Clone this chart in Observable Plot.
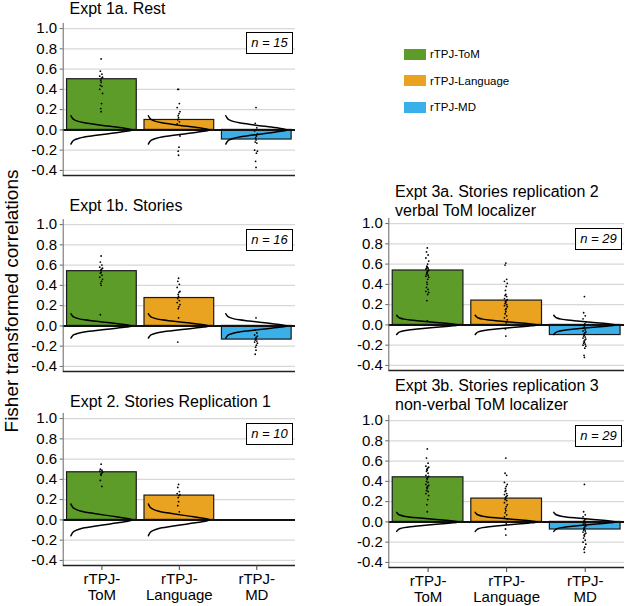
<!DOCTYPE html>
<html><head><meta charset="utf-8">
<script src="https://cdn.jsdelivr.net/npm/d3@7"></script>
<script src="https://cdn.jsdelivr.net/npm/@observablehq/plot@0.6"></script>
<style>
body{margin:0;background:#fff;}
#root{position:relative;width:625px;height:606px;overflow:hidden;font-family:"Liberation Sans",Arial,sans-serif;color:#000;}
.ttl{position:absolute;font-size:16px;line-height:19px;white-space:nowrap;}
.panel{position:absolute;}
.panel svg{overflow:visible;}
.nbox{position:absolute;border:1.3px solid #000;background:#fff;font-style:italic;font-size:13px;text-align:center;box-sizing:border-box;line-height:19px;}
.ylab{position:absolute;font-size:19px;white-space:nowrap;transform:translate(-50%,-50%) rotate(-90deg);}
.sw{position:absolute;width:22px;height:11px;}
.lg{position:absolute;font-size:11.5px;line-height:12px;white-space:nowrap;}
</style>
</head><body>
<div id="root"></div>
<script>
// ---------- data ----------
const categories = ["rTPJ-ToM", "rTPJ-Language", "rTPJ-MD"];
const tickLabels = ["rTPJ-\nToM", "rTPJ-\nLanguage", "rTPJ-\nMD"];
const colors = ["#5e9c2a", "#e9a321", "#3bb0e8"];
const yTicks = [-0.4, -0.2, 0.0, 0.2, 0.4, 0.6, 0.8, 1.0];
const yLabel = "Fisher transformed correlations";

const titles = [
  ["Expt 1a. Rest"],
  ["Expt 1b. Stories"],
  ["Expt 2. Stories Replication 1"],
  ["Expt 3a. Stories replication 2", "verbal ToM localizer"],
  ["Expt 3b. Stories replication 3", "non-verbal ToM localizer"]
];
const nValues = [15, 16, 10, 29, 29];

// bar means per panel (ToM, Language, MD)
const means1a = [0.50, 0.098, -0.095];
const means1b = [0.54, 0.275, -0.135];
const means2  = [0.47, 0.24, null];
const means3a = [0.537, 0.24, -0.10];
const means3b = [0.44, 0.23, -0.075];

// individual subject values
const tom1a  = [0.70,0.58,0.55,0.53,0.52,0.51,0.49,0.47,0.44,0.43,0.40,0.36,0.26,0.21,0.18];
const lang1a = [0.40,0.40,0.26,0.22,0.18,0.16,0.14,0.12,0.10,0.08,0.06,-0.06,-0.17,-0.21,-0.25];
const md1a   = [0.22,0.065,0.02,-0.01,-0.04,-0.06,-0.08,-0.10,-0.12,-0.13,-0.20,-0.21,-0.23,-0.31,-0.37];

const tom1b  = [0.69,0.63,0.60,0.58,0.57,0.56,0.55,0.53,0.52,0.50,0.48,0.46,0.44,0.42,0.40,0.11];
const lang1b = [0.47,0.44,0.41,0.38,0.34,0.33,0.31,0.29,0.27,0.25,0.23,0.21,0.19,0.17,0.08,-0.16];
const md1b   = [0.08,-0.04,-0.07,-0.09,-0.10,-0.11,-0.12,-0.13,-0.14,-0.15,-0.16,-0.17,-0.19,-0.21,-0.24,-0.28];

const tom2  = [0.55,0.50,0.49,0.48,0.47,0.46,0.45,0.44,0.39,0.33];
const lang2 = [0.35,0.32,0.28,0.26,0.25,0.24,0.22,0.18,0.14,0.08];

const tom3a  = [0.76,0.72,0.69,0.66,0.63,0.60,0.58,0.57,0.56,0.56,0.55,0.54,0.53,0.52,0.51,0.50,0.49,0.48,0.47,0.45,0.42,0.40,0.37,0.35,0.33,0.32,0.30,0.24,0.04];
const lang3a = [0.61,0.59,0.45,0.43,0.41,0.38,0.34,0.30,0.29,0.28,0.26,0.25,0.24,0.23,0.22,0.21,0.20,0.19,0.18,0.16,0.15,0.13,0.11,0.09,0.07,0.05,0.02,-0.04,-0.11];
const md3a   = [0.28,0.12,0.09,0.06,0.03,0.01,0.00,-0.02,-0.03,-0.05,-0.06,-0.07,-0.08,-0.09,-0.10,-0.11,-0.12,-0.13,-0.14,-0.15,-0.16,-0.17,-0.18,-0.19,-0.20,-0.21,-0.23,-0.30,-0.32];

const tom3b  = [0.72,0.63,0.58,0.55,0.54,0.53,0.52,0.51,0.50,0.48,0.46,0.45,0.44,0.43,0.42,0.40,0.39,0.37,0.36,0.35,0.34,0.33,0.31,0.30,0.28,0.26,0.22,0.17,0.10];
const lang3b = [0.63,0.48,0.46,0.39,0.37,0.35,0.33,0.31,0.30,0.28,0.27,0.26,0.25,0.24,0.23,0.22,0.21,0.19,0.17,0.15,0.13,0.11,0.09,0.07,0.05,0.03,-0.02,-0.07,-0.13];
const md3b   = [0.37,0.10,0.07,0.05,0.03,0.02,0.01,0.00,-0.01,-0.02,-0.03,-0.04,-0.05,-0.06,-0.07,-0.08,-0.09,-0.10,-0.11,-0.12,-0.13,-0.14,-0.16,-0.18,-0.20,-0.22,-0.25,-0.27,-0.30];

// sideways null-distribution curve shape:
// vertical position (fraction of tail extent) and horizontal reach (fraction of width)
const curveU = [1.0, 0.85, 0.72, 0.60, 0.50, 0.40, 0.30, 0.20, 0.10, 0.0];
const curveW = [0.0, 0.02, 0.05, 0.12, 0.22, 0.38, 0.55, 0.74, 0.90, 1.0];
// tail extent (in correlation units) of the curve in each panel
const curveExtent = [0.14, 0.12, 0.157, 0.095, 0.094];

const panelMeans = [means1a, means1b, means2, means3a, means3b];
const panelDots = [[tom1a, lang1a, md1a], [tom1b, lang1b, md1b], [tom2, lang2, null], [tom3a, lang3a, md3a], [tom3b, lang3b, md3b]];

// ---------- layout ----------
const root = document.getElementById("root");
const FONT = "'Liberation Sans', Arial, sans-serif";
const layout = [
  {left: 0,   top: 12.6,  width: 300, ml: 62.7, mr: 5, showX: false, tx: 69.5, ty: -1},
  {left: 0,   top: 209,   width: 300, ml: 62.7, mr: 5, showX: false, tx: 69.5, ty: 195.5},
  {left: 0,   top: 403.3, width: 300, ml: 62.7, mr: 5, showX: true,  tx: 70,   ty: 391.5},
  {left: 320, top: 208.3, width: 305, ml: 68.3, mr: 1, showX: false, tx: 395,  ty: 181.6},
  {left: 320, top: 405,   width: 305, ml: 68.3, mr: 1, showX: true,  tx: 395,  ty: 376}
];
const jit = [0, -0.8, 0.8, -1.4, 1.4, 0.4, -0.4];

function makePanel(p) {
  const L = layout[p];
  const means = panelMeans[p], dots = panelDots[p], ext = curveExtent[p];
  const mt = 10, mb = L.showX ? 40 : 10, plotH = 152;
  const height = mt + plotH + mb;
  const bandPx = (L.width - L.ml - L.mr) / 3;

  const bars = means.map((v, i) => ({i, v})).filter(d => d.v != null);
  const dotData = [];
  dots.forEach((arr, i) => { if (arr) arr.forEach((v, j) => dotData.push({i, v, j})); });
  const curveData = [];
  bars.forEach(({i}) => {
    curveU.forEach((u, k) => curveData.push({i, x: i + 0.10 + curveW[k] * 0.79, y: u * ext}));
    for (let k = curveU.length - 2; k >= 0; k--) curveData.push({i, x: i + 0.10 + curveW[k] * 0.79, y: -curveU[k] * ext});
  });

  const chart = Plot.plot({
    width: L.width, height,
    marginTop: mt, marginBottom: mb, marginLeft: L.ml, marginRight: L.mr,
    style: {fontFamily: FONT, fontSize: "15px", background: "transparent", color: "#000"},
    x: {domain: [0, 3], axis: null},
    y: {domain: [-0.45, 1.05], axis: null},
    marks: [
      Plot.ruleY(yTicks.filter(t => t !== 0), {stroke: "#d8d8d8", strokeWidth: 1.2}),
      Plot.rectY(bars, {x1: d => d.i + 0.05, x2: d => d.i + 0.95, y1: 0, y2: "v", fill: d => colors[d.i], stroke: "#1a1a1a", strokeWidth: 1.2}),
      Plot.ruleY([0], {stroke: "#111", strokeWidth: 2}),
      Plot.line(curveData, {x: "x", y: "y", z: "i", curve: "monotone-y", stroke: "#000", strokeWidth: 1.5}),
      Plot.dot(dotData, {x: d => d.i + 0.49 + jit[d.j % jit.length] / bandPx, y: "v", r: 0.9, fill: "#000", stroke: "none"}),
      Plot.ruleX([0], {stroke: "#666", strokeWidth: 1}),
      Plot.ruleY([-0.45], {stroke: "#222", strokeWidth: 1.5}),
      Plot.axisY({ticks: yTicks, tickFormat: d => d.toFixed(1), tickSize: 3, tickPadding: 3, fontSize: 15, stroke: "#666", label: null}),
      L.showX ? Plot.axisX({ticks: [0.5, 1.5, 2.5], tickFormat: d => tickLabels[Math.floor(d)], tickSize: 5, tickPadding: 2, fontSize: 15, lineHeight: 1.07, stroke: "#444", label: null}) : null
    ]
  });

  const wrap = document.createElement("div");
  wrap.className = "panel";
  wrap.style.left = L.left + "px";
  wrap.style.top = L.top + "px";
  wrap.appendChild(chart);
  root.appendChild(wrap);

  // n annotation
  const ys = chart.scale("y");
  const nb = document.createElement("div");
  nb.className = "nbox";
  nb.textContent = "n = " + nValues[p];
  const bw = 47, bh = 22;
  nb.style.width = bw + "px"; nb.style.height = bh + "px";
  nb.style.left = (L.left + L.width - L.mr - 2 - bw) + "px";
  nb.style.top = (L.top + ys.apply(0.845) - bh / 2) + "px";
  root.appendChild(nb);

  // title
  const t = document.createElement("div");
  t.className = "ttl";
  t.style.left = L.tx + "px";
  t.style.top = L.ty + "px";
  t.innerHTML = titles[p].join("<br>");
  root.appendChild(t);
}

for (let p = 0; p < 5; p++) makePanel(p);

// y label
const yl = document.createElement("div");
yl.className = "ylab";
yl.style.left = "12px";
yl.style.top = "301px";
yl.textContent = yLabel;
root.appendChild(yl);

// legend
categories.forEach((c, i) => {
  const sw = document.createElement("div");
  sw.className = "sw";
  sw.style.left = "404px";
  sw.style.top = (48.5 + i * 26.5) + "px";
  sw.style.background = colors[i];
  root.appendChild(sw);
  const lg = document.createElement("div");
  lg.className = "lg";
  lg.style.left = "430px";
  lg.style.top = (48 + i * 26.5) + "px";
  lg.textContent = c;
  root.appendChild(lg);
});
</script>
</body></html>
